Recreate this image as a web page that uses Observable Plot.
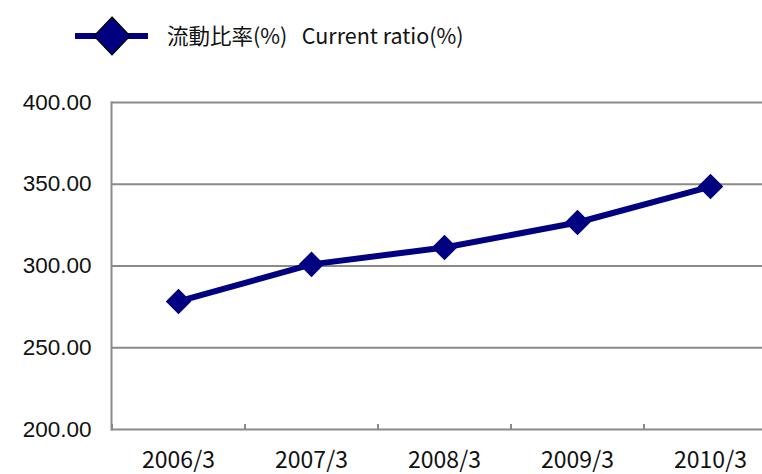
<!DOCTYPE html>
<html>
<head>
<meta charset="utf-8">
<script src="https://cdn.jsdelivr.net/npm/d3@7"></script>
<script src="https://cdn.jsdelivr.net/npm/@observablehq/plot@0.6"></script>
<style>
  html, body { margin: 0; padding: 0; background: #fff; }
  #legend { height: 60px; position: relative; }
  #legend svg { position: absolute; left: 70px; top: 12px; }
  #legend span { position: absolute; left: 167px; top: 21px; font-family: "Noto Sans CJK JP", sans-serif; font-size: 21.5px; line-height: 28px; color: #111; white-space: pre; }
</style>
</head>
<body>
<div id="legend">
  <svg width="84" height="44"><line x1="5" y1="24" x2="78" y2="24" stroke="#000080" stroke-width="6"/><path d="M42,5 L60,24 L42,43 L24,24 Z" fill="#000080" stroke="#000" stroke-width="1.2"/></svg>
  <span>流動比率(%)   Current ratio(%)</span>
</div>
<div id="chart"></div>
<script>
const periods = ["2006/3", "2007/3", "2008/3", "2009/3", "2010/3"];
const currentRatio = [278.3, 301.0, 311.3, 326.6, 348.6];
const yTicks = [200, 250, 300, 350, 400];

const data = periods.map((p, i) => ({period: p, value: currentRatio[i]}));

const chart = Plot.plot({
  width: 762,
  height: 414,
  marginTop: 42,
  marginBottom: 45,
  marginLeft: 111,
  marginRight: -14,
  style: {background: "#fff", overflow: "visible"},
  x: {type: "point", domain: periods, padding: 0.5, align: 0.5},
  y: {domain: [200, 400]},
  marks: [
    Plot.gridY(yTicks, {stroke: "#8a8a8a", strokeOpacity: 1, strokeWidth: 2}),
    Plot.frame({anchor: "left", stroke: "#8a8a8a", strokeWidth: 2}),
    Plot.axisY(yTicks, {
      tickSize: 0, tickPadding: 20, label: null,
      tickFormat: d => d.toFixed(2),
      fontSize: 22.5, fontFamily: "Liberation Sans, Arial, sans-serif", fill: "#111"
    }),
    Plot.axisX({
      tickSize: -5, text: null, dx: -66.5, label: null,
      stroke: "#8a8a8a", strokeWidth: 2
    }),
    Plot.axisX({
      tickSize: 0, tickPadding: 22, label: null,
      fontSize: 23, fontFamily: "Noto Sans CJK JP, sans-serif", fill: "#111"
    }),
    Plot.line(data, {x: "period", y: "value", stroke: "#000080", strokeWidth: 6}),
    Plot.dot(data, {x: "period", y: "value", symbol: "diamond2", r: 11.5, fill: "#000080", stroke: "none"})
  ]
});
document.getElementById("chart").appendChild(chart);
</script>
</body>
</html>
